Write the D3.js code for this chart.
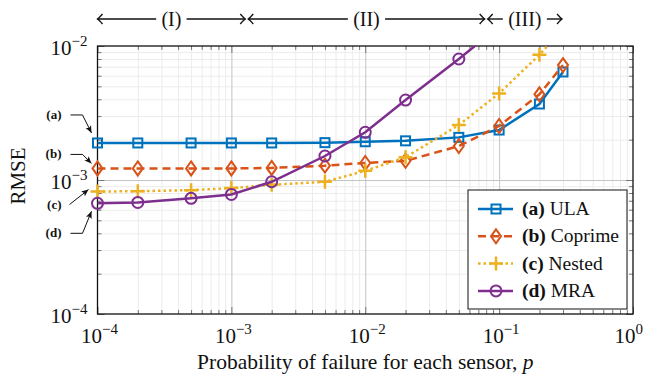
<!DOCTYPE html>
<html>
<head>
<meta charset="utf-8">
<script src="https://cdn.jsdelivr.net/npm/d3@7"></script>
<style>
  body { margin: 0; background: #fff; }
  svg text { font-family: "Liberation Serif", "DejaVu Serif", serif; fill: #111; }
</style>
</head>
<body>
<div id="graph_area"></div>
<script>
// Data
const probs = [1e-4, 2e-4, 5e-4, 1e-3, 2e-3, 5e-3, 1e-2, 2e-2, 5e-2, 1e-1, 2e-1, 3e-1];
const ula     = [1.89e-3, 1.89e-3, 1.89e-3, 1.89e-3, 1.89e-3, 1.90e-3, 1.93e-3, 1.96e-3, 2.08e-3, 2.36e-3, 3.69e-3, 6.4e-3];
const coprime = [1.22e-3, 1.22e-3, 1.22e-3, 1.22e-3, 1.23e-3, 1.28e-3, 1.34e-3, 1.39e-3, 1.79e-3, 2.53e-3, 4.36e-3, 7.2e-3];
const nested  = [8.2e-4, 8.25e-4, 8.4e-4, 8.7e-4, 9.2e-4, 9.7e-4, 1.17e-3, 1.48e-3, 2.57e-3, 4.43e-3, 8.6e-3, 1.34e-2];
const mra     = [6.7e-4, 6.8e-4, 7.3e-4, 7.8e-4, 9.7e-4, 1.51e-3, 2.27e-3, 3.95e-3, 8.0e-3, 1.4e-2];

const seriesNames = ['ULA', 'Coprime', 'Nested', 'MRA'];
const seriesTags = ['(a)', '(b)', '(c)', '(d)'];
const xTickValues = [1e-4, 1e-3, 1e-2, 1e-1, 1e0];
const yTickValues = [1e-4, 1e-3, 1e-2];
const regionNames = ['(I)', '(II)', '(III)'];
const regionEdges = [1e-4, 1.27e-3, 0.078, 0.295];

// Draw area values
const W = 647, H = 374;
const margin = { top: 46, right: 14, bottom: 60, left: 97.5 };
const width = W - margin.left - margin.right;
const height = H - margin.top - margin.bottom;

const svg = d3.select('#graph_area')
  .append('svg')
    .attr('width', W)
    .attr('height', H)
    .attr('font-family', '"Liberation Serif", serif');
const g = svg.append('g')
  .attr('transform', `translate(${margin.left},${margin.top})`);

const x = d3.scaleLog().domain([1e-4, 1]).range([0, width]);
const y = d3.scaleLog().domain([1e-4, 1e-2]).range([height, 0]);

// minor tick values per decade
const minorX = [];
for (let e = -4; e < 0; e++) for (let m = 2; m <= 9; m++) minorX.push(m * Math.pow(10, e));
const minorY = [];
for (let e = -4; e < -2; e++) for (let m = 2; m <= 9; m++) minorY.push(m * Math.pow(10, e));

// Grid
function grid(axis, values, color, tr) {
  const gg = g.append('g').attr('transform', tr || null)
    .call(axis.tickValues(values).tickFormat(''));
  gg.select('.domain').remove();
  gg.selectAll('line').attr('stroke', color).attr('stroke-width', 1);
}
grid(d3.axisBottom(x).tickSize(-height), minorX, '#ececec', `translate(0,${height})`);
grid(d3.axisLeft(y).tickSize(-width), minorY, '#ececec');
grid(d3.axisBottom(x).tickSize(-height), xTickValues.slice(1, -1), '#c4c4c4', `translate(0,${height})`);
grid(d3.axisLeft(y).tickSize(-width), yTickValues.slice(1, -1), '#c4c4c4');

// Ticks on all four sides, pointing inward
function ticks(axis, values, len, tr) {
  const gg = g.append('g').attr('transform', tr || null)
    .call(axis.tickValues(values).tickFormat('').tickSize(len));
  gg.select('.domain').remove();
  gg.selectAll('line').attr('stroke', '#777').attr('stroke-width', 1);
}
ticks(d3.axisBottom(x), minorX, -4, `translate(0,${height})`);
ticks(d3.axisBottom(x), xTickValues, -7, `translate(0,${height})`);
ticks(d3.axisTop(x), minorX, -4);
ticks(d3.axisTop(x), xTickValues, -7);
ticks(d3.axisLeft(y), minorY, -4);
ticks(d3.axisLeft(y), yTickValues, -7);
ticks(d3.axisRight(y), minorY, -4, `translate(${width},0)`);
ticks(d3.axisRight(y), yTickValues, -7, `translate(${width},0)`);

// Frame
g.append('rect')
  .attr('width', width).attr('height', height)
  .attr('fill', 'none').attr('stroke', '#111').attr('stroke-width', 1.3);

// Tick labels 10^k
function powLabel(sel, v) {
  const e = Math.round(Math.log10(v));
  sel.append('tspan').text('10');
  sel.append('tspan').attr('dy', -9).attr('font-size', 15).text(e < 0 ? '\u2212' + (-e) : e);
}
g.append('g').selectAll('text')
  .data(xTickValues).join('text')
    .attr('x', d => x(d) + 2)
    .attr('y', height + 29)
    .attr('text-anchor', 'middle')
    .attr('font-size', 21)
    .each(function(d) { powLabel(d3.select(this), d); })
    .each(function() {
      // keep the last label inside the picture
      const b = this.getBBox();
      const over = margin.left + b.x + b.width - (W - 4);
      if (over > 0) d3.select(this).attr('x', +d3.select(this).attr('x') - over);
    });
g.append('g').selectAll('text')
  .data(yTickValues).join('text')
    .attr('x', -10)
    .attr('y', d => y(d) + 9)
    .attr('text-anchor', 'end')
    .attr('font-size', 21)
    .each(function(d) { powLabel(d3.select(this), d); });

// Axis titles
const xt = svg.append('text')
  .attr('x', margin.left + width / 2)
  .attr('y', 369)
  .attr('text-anchor', 'middle')
  .attr('font-size', 21.5)
  .text('Probability of failure for each sensor, ');
xt.append('tspan').attr('font-style', 'italic').text('p');
svg.append('text')
  .attr('transform', `translate(25,${margin.top + height / 2 - 4}) rotate(-90)`)
  .attr('text-anchor', 'middle')
  .attr('font-size', 21)
  .text('RMSE');

// Series
const styles = [
  { values: ula, color: '#0072BD', dash: null, marker: 'square' },
  { values: coprime, color: '#D95319', dash: '8,5', marker: 'diamond' },
  { values: nested, color: '#EDB120', dash: '2.5,3', marker: 'plus' },
  { values: mra, color: '#7E2F8E', dash: null, marker: 'circle' },
];

svg.append('defs').append('clipPath').attr('id', 'clip')
  .append('rect').attr('x', -10).attr('y', 0).attr('width', width + 20).attr('height', height + 10);

function drawMarker(sel, type, color) {
  if (type === 'square') {
    sel.append('rect').attr('x', -4.5).attr('y', -4.5).attr('width', 9).attr('height', 9)
      .attr('fill', 'none').attr('stroke', color).attr('stroke-width', 2);
  } else if (type === 'diamond') {
    sel.append('path').attr('d', 'M0,-7 L5,0 L0,7 L-5,0 Z')
      .attr('fill', 'none').attr('stroke', color).attr('stroke-width', 2);
  } else if (type === 'plus') {
    sel.append('path').attr('d', 'M-7,0 H7 M0,-7 V7')
      .attr('fill', 'none').attr('stroke', color).attr('stroke-width', 2.5);
  } else {
    sel.append('circle').attr('r', 5.5)
      .attr('fill', 'none').attr('stroke', color).attr('stroke-width', 2);
  }
}

const plot = g.append('g').attr('clip-path', 'url(#clip)');
const line = d3.line().x(d => x(d.p)).y(d => y(d.v));
styles.forEach(s => {
  const pts = s.values.map((v, i) => ({ p: probs[i], v: v }));
  plot.append('path')
    .datum(pts)
    .attr('fill', 'none')
    .attr('stroke', s.color)
    .attr('stroke-width', 2.5)
    .attr('stroke-dasharray', s.dash)
    .attr('d', line);
  plot.selectAll(null)
    .data(pts.filter(d => d.v <= 1e-2)).join('g')
      .attr('transform', d => `translate(${x(d.p)},${y(d.v)})`)
      .each(function() { drawMarker(d3.select(this), s.marker, s.color); });
});

// Legend
const lg = g.append('g').attr('transform', `translate(${width - 165},${height - 124})`);
lg.append('rect').attr('width', 159).attr('height', 119)
  .attr('fill', '#fff').attr('stroke', '#111').attr('stroke-width', 1);
styles.forEach((s, i) => {
  const row = lg.append('g').attr('transform', `translate(0,${19 + i * 27.3})`);
  row.append('line').attr('x1', 10).attr('x2', 45)
    .attr('stroke', s.color).attr('stroke-width', 2.5).attr('stroke-dasharray', s.dash);
  const mk = row.append('g').attr('transform', 'translate(28,0)');
  drawMarker(mk, s.marker, s.color);
  const t = row.append('text').attr('x', 54).attr('y', 6).attr('font-size', 19.5);
  t.append('tspan').attr('font-weight', 'bold').text(seriesTags[i]);
  t.append('tspan').text(' ' + seriesNames[i]);
});

// Left annotations pointing at the first points
const firsts = [ula[0], coprime[0], nested[0], mra[0]];
const annot = [
  { dy: -28, path: [[-27, 0], [-15, 0], [-6, 18]] },
  { dy: -14, path: [[-27, 0], [-15, 0], [-6, 9]] },
  { dy: 13, path: [[-28, 0], [-9, -15]] },
  { dy: 30, path: [[-27, 0], [-15, 0], [-6, -22]] },
];
annot.forEach((a, i) => {
  const ly = y(firsts[i]) + a.dy;
  const ag = g.append('g').attr('transform', `translate(0,${ly})`);
  ag.append('text').attr('x', -36).attr('y', 4).attr('text-anchor', 'end')
    .attr('font-size', 13).attr('font-weight', 'bold').text(seriesTags[i]);
  ag.append('path').attr('d', d3.line()(a.path))
    .attr('fill', 'none').attr('stroke', '#111').attr('stroke-width', 1);
  const p1 = a.path[a.path.length - 2], p2 = a.path[a.path.length - 1];
  const ang = Math.atan2(p2[1] - p1[1], p2[0] - p1[0]) * 180 / Math.PI;
  ag.append('path')
    .attr('transform', `translate(${p2[0]},${p2[1]}) rotate(${ang})`)
    .attr('d', 'M0,0 L-7,-3 L-5.5,0 L-7,3 Z').attr('fill', '#111');
});

// Region arrows on top
const topG = svg.append('g').attr('transform', `translate(${margin.left},19)`);
function head(sel, xp, dir) {
  sel.append('path')
    .attr('transform', `translate(${xp},0) scale(${dir},1)`)
    .attr('d', 'M-5,-5 Q-1.5,-1 0,0 Q-1.5,1 -5,5')
    .attr('fill', 'none').attr('stroke', '#111').attr('stroke-width', 1.4);
}
regionNames.forEach((name, i) => {
  const x0 = x(regionEdges[i]) + (i > 0 ? 3 : 0);
  const x1 = x(regionEdges[i + 1]);
  const cx = (x0 + x1) / 2;
  const tw = name.length * 6.8 + 6;
  topG.append('line').attr('x1', x0).attr('x2', cx - tw / 2 - 2)
    .attr('stroke', '#111').attr('stroke-width', 1.4);
  topG.append('line').attr('x1', cx + tw / 2 + 2).attr('x2', x1)
    .attr('stroke', '#111').attr('stroke-width', 1.4);
  head(topG, x0, -1);
  head(topG, x1, 1);
  topG.append('text').attr('x', cx).attr('y', 6.5).attr('text-anchor', 'middle')
    .attr('font-size', 20).text(name);
});
</script>
</body>
</html>
